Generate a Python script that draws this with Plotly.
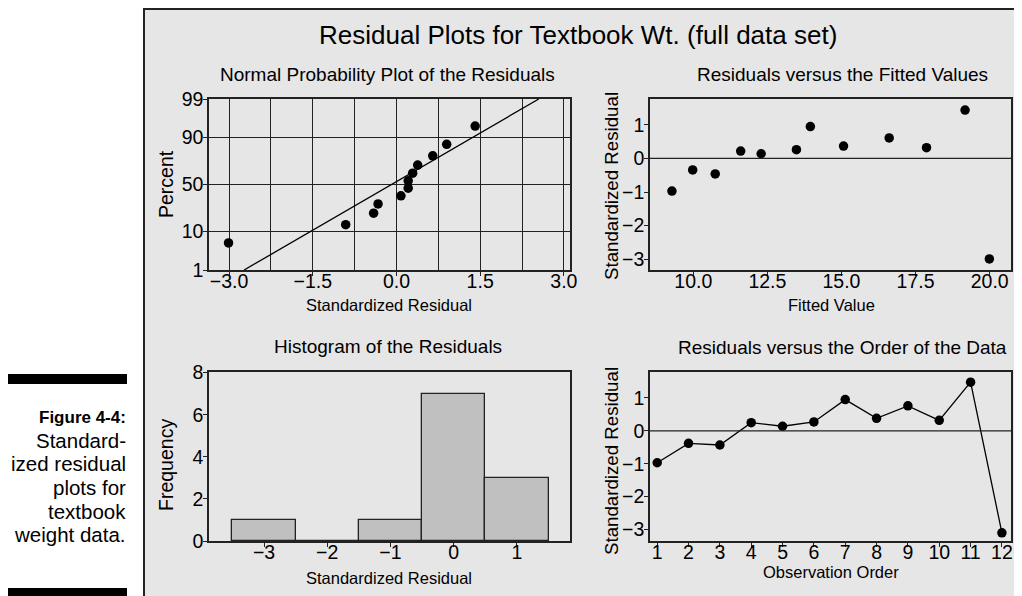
import plotly.graph_objects as go
from statistics import NormalDist

# ---------------- data ----------------
prob_resid = [-3.01, -0.91, -0.41, -0.33, 0.08, 0.21, 0.21, 0.29, 0.38, 0.65, 0.90, 1.41]
prob_pct = [5.6, 13.7, 21.8, 29.8, 37.9, 46.0, 54.0, 62.1, 70.2, 78.2, 86.3, 94.4]
fit_mean = -0.09
fit_sd = 1.135
prob_ticks = [1, 10, 50, 90, 99]

fitted_vals = [9.28, 9.98, 10.74, 11.60, 12.29, 13.48, 13.95, 15.07, 16.61, 17.87, 19.17, 19.99]
fitted_resid = [-0.97, -0.34, -0.46, 0.22, 0.14, 0.26, 0.95, 0.37, 0.61, 0.32, 1.44, -2.99]

hist_bins = [-3, -2, -1, 0, 1]
hist_counts = [1, 0, 1, 7, 3]

order_obs = [1, 2, 3, 4, 5, 6, 7, 8, 9, 10, 11, 12]
order_resid = [-0.97, -0.38, -0.43, 0.25, 0.14, 0.27, 0.95, 0.38, 0.76, 0.32, 1.48, -3.10]

main_title = "Residual Plots for Textbook Wt. (full data set)"
caption_bold = "Figure 4-4:"
caption_lines = ["Standard-", "ized residual", "plots for", "textbook", "weight data."]

# ---------------- layout helpers ----------------
OFF = 8                      # page body margin
W, H = 1022 - OFF, 596 - OFF
FONT = "Liberation Sans, Arial, Helvetica, sans-serif"
DARK = "#222222"
nd = NormalDist()


def px(x):
    return (x - OFF) / W


def py(y):
    return 1 - (y - OFF) / H


z = [nd.inv_cdf(p / 100) for p in prob_pct]
ztick = [nd.inv_cdf(p / 100) for p in prob_ticks]
zlo, zhi = ztick[0], ztick[-1]
line_x = [fit_mean + fit_sd * zlo, fit_mean + fit_sd * zhi]

fig = go.Figure()
fig.add_trace(go.Scatter(x=prob_resid, y=z, mode="markers",
                         marker=dict(color="black", size=9.5), xaxis="x", yaxis="y"))
fig.add_trace(go.Scatter(x=line_x, y=[zlo, zhi], mode="lines",
                         line=dict(color="black", width=1.3), xaxis="x", yaxis="y"))
fig.add_trace(go.Scatter(x=fitted_vals, y=fitted_resid, mode="markers",
                         marker=dict(color="black", size=9.5), xaxis="x2", yaxis="y2"))
fig.add_trace(go.Bar(x=hist_bins, y=hist_counts, width=1,
                     marker=dict(color="#c0c0c0", line=dict(color=DARK, width=1.3)),
                     xaxis="x3", yaxis="y3"))
fig.add_trace(go.Scatter(x=order_obs, y=order_resid, mode="lines+markers",
                         marker=dict(color="black", size=9.5), line=dict(color="black", width=1.3),
                         xaxis="x4", yaxis="y4"))

TICKFONT = dict(family=FONT, size=19.5, color="black")


def ax(domain, anchor, standoff, **kw):
    d = dict(domain=domain, anchor=anchor, showline=True, linecolor=DARK, linewidth=1.5,
             mirror=True, ticks="outside", ticklen=4, tickcolor=DARK, tickwidth=1.3,
             tickfont=TICKFONT, showgrid=False, zeroline=False, fixedrange=True,
             automargin=False, ticklabelstandoff=standoff)
    d.update(kw)
    return d


XS, YS = -11, -4
xl = [px(209), px(570)]
xr = [px(650), px(1011)]
yt = [py(270), py(99)]
yb = [py(541), py(372)]

fig.update_layout(
    template="none",
    width=W, height=H, showlegend=False,
    margin=dict(l=0, r=0, t=0, b=0, pad=0, autoexpand=False),
    paper_bgcolor="white", plot_bgcolor="white",
    font=dict(family=FONT, color="black"),
    xaxis=ax(xl, "y", XS, range=[-3.36, 3.11], tickvals=[-3, -1.5, 0, 1.5, 3], tickformat=".1f",
             showgrid=True, gridcolor=DARK, gridwidth=1.3,
             minor=dict(dtick=0.75, tick0=0, showgrid=True, gridcolor=DARK, gridwidth=1.3)),
    yaxis=ax(yt, "x", YS, range=[zlo, zhi], tickvals=ztick, ticktext=[str(p) for p in prob_ticks],
             showgrid=True, gridcolor=DARK, gridwidth=1.3),
    xaxis2=ax(xr, "y2", XS, range=[8.54, 20.72], tickvals=[10, 12.5, 15, 17.5, 20], tickformat=".1f"),
    yaxis2=ax(yt, "x2", YS, range=[-3.32, 1.77], tickvals=[-3, -2, -1, 0, 1]),
    xaxis3=ax(xl, "y3", XS, range=[-3.87, 1.84], tickvals=hist_bins),
    yaxis3=ax(yb, "x3", YS, range=[0, 8.03], tickvals=[0, 2, 4, 6, 8]),
    xaxis4=ax(xr, "y4", XS, range=[0.77, 12.29], tickvals=order_obs),
    yaxis4=ax(yb, "x4", YS, range=[-3.35, 1.79], tickvals=[-3, -2, -1, 0, 1]),
    bargap=0,
)

shapes = [
    # gray panel
    dict(type="rect", xref="paper", yref="paper", x0=px(144), x1=1.02, y0=-0.02, y1=py(9),
         fillcolor="#e6e6e6", line=dict(color=DARK, width=2), layer="below"),
    # black bars of caption
    dict(type="rect", xref="paper", yref="paper", x0=px(7), x1=px(127), y0=py(384), y1=py(374),
         fillcolor="black", line=dict(width=0)),
    dict(type="rect", xref="paper", yref="paper", x0=px(7), x1=px(127), y0=py(600), y1=py(588),
         fillcolor="black", line=dict(width=0)),
    # zero reference lines
    dict(type="line", xref="x2 domain", yref="y2", x0=0, x1=1, y0=0, y1=0,
         line=dict(color=DARK, width=1.3)),
    dict(type="line", xref="x4 domain", yref="y4", x0=0, x1=1, y0=0, y1=0,
         line=dict(color=DARK, width=1.3)),
]
fig.update_layout(shapes=shapes)

ann = []


def text(t, x, y, size, angle=0, xanchor="center", bold=False):
    ann.append(dict(text=f"<b>{t}</b>" if bold else t, x=px(x), y=py(y), xref="paper", yref="paper",
                    showarrow=False, xanchor=xanchor, yanchor="middle", textangle=angle,
                    font=dict(family=FONT, size=size, color="black")))


text(main_title, 578, 35, 26)
text("Normal Probability Plot of the Residuals", 387.5, 74, 19)
text("Residuals versus the Fitted Values", 842, 75, 19)
text("Histogram of the Residuals", 387.5, 346, 19)
text("Residuals versus the Order of the Data", 842.5, 347, 19)

text("Standardized Residual", 389, 305, 16.5)
text("Fitted Value", 831, 305, 16.5)
text("Standardized Residual", 388.5, 578, 16.5)
text("Observation Order", 830.5, 572, 16.5)

text("Percent", 166.5, 184.5, 19.5, angle=-90)
text("Standardized Residual", 611, 186, 18.7, angle=-90)
text("Frequency", 166, 465, 19.5, angle=-90)
text("Standardized Residual", 611, 461, 18.7, angle=-90)

text(caption_bold, 128, 417, 17, xanchor="right", bold=True)
for i, line in enumerate(caption_lines):
    text(line, 128, 440 + 23.7 * i, 20.5, xanchor="right")

fig.update_layout(annotations=ann)
fig.write_html("out.html")
